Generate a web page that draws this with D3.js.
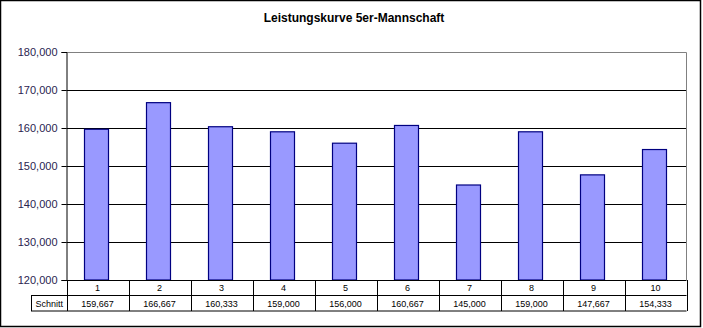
<!DOCTYPE html>
<html>
<head>
<meta charset="utf-8">
<script src="https://cdn.jsdelivr.net/npm/d3@7"></script>
<style>
  html, body { margin: 0; padding: 0; background: #fff; }
  svg { display: block; }
  text { font-family: "Liberation Sans", Arial, sans-serif; }
</style>
</head>
<body>
<svg id="chart" width="703" height="328"></svg>
<script>
// Team performance per round (average score, "Schnitt")
const categories = ["1", "2", "3", "4", "5", "6", "7", "8", "9", "10"];
const schnitt = [159667, 166667, 160333, 159000, 156000, 160667, 145000, 159000, 147667, 154333];
const yTicks = [120000, 130000, 140000, 150000, 160000, 170000, 180000];
const title = "Leistungskurve 5er-Mannschaft";
const rowLabel = "Schnitt";

const svg = d3.select("#chart");
const plot = { left: 66.5, right: 686.5, top: 52, bottom: 280 };

// outer frame
svg.append("rect")
  .attr("x", 0.5).attr("y", 0.5)
  .attr("width", 700).attr("height", 326)
  .attr("fill", "#fff").attr("stroke", "#000").attr("stroke-width", 1.5);

// title
svg.append("text")
  .attr("x", 354).attr("y", 22)
  .attr("text-anchor", "middle")
  .attr("font-size", 12).attr("font-weight", "bold")
  .attr("fill", "#000")
  .text(title);

const x = d3.scaleBand().domain(categories).range([plot.left, plot.right]).padding(0);
const y = d3.scaleLinear().domain([120000, 180000]).range([plot.bottom, plot.top]);
const fmt = d3.format(",");

// gridlines
svg.append("g").selectAll("line")
  .data(yTicks.filter(t => t > 120000 && t < 180000))
  .join("line")
  .attr("x1", plot.left).attr("x2", plot.right)
  .attr("y1", d => Math.round(y(d)) + 0.5).attr("y2", d => Math.round(y(d)) + 0.5)
  .attr("stroke", "#000").attr("stroke-width", 1);

// plot frame: top and right in grey
svg.append("path")
  .attr("d", `M${plot.left},${plot.top + 0.5}H${plot.right}V${plot.bottom}`)
  .attr("fill", "none").attr("stroke", "#808080").attr("stroke-width", 1);

// y axis
const yAxis = d3.axisLeft(y).tickValues(yTicks).tickFormat(fmt).tickSize(5).tickPadding(4);
const gy = svg.append("g").attr("transform", `translate(${plot.left},0)`).call(yAxis);
gy.select(".domain").attr("stroke", "#000");
gy.selectAll(".tick line").attr("stroke", "#000");
gy.selectAll(".tick text")
  .attr("font-size", 11)
  .attr("font-family", "Liberation Sans, Arial, sans-serif")
  .attr("fill", "#2a2450");

// bars
const barW = x.bandwidth() * 24 / 62;
svg.append("g").selectAll("rect")
  .data(categories.map((c, i) => ({ c, v: schnitt[i] })))
  .join("rect")
  .attr("x", d => x(d.c) + (x.bandwidth() - barW) / 2 - 1)
  .attr("y", d => y(d.v))
  .attr("width", barW)
  .attr("height", d => y(120000) - y(d.v))
  .attr("fill", "#9999ff")
  .attr("stroke", "#000080")
  .attr("stroke-width", 1.2);

// data table below the axis
const row1 = { top: 280, bottom: 295.5 };
const row2 = { top: 295.5, bottom: 311 };
const labelLeft = 31;
const tbl = svg.append("g").attr("stroke", "#000").attr("stroke-width", 1).attr("fill", "none");
tbl.append("line").attr("x1", plot.left).attr("x2", plot.right).attr("y1", row1.top + 0.5).attr("y2", row1.top + 0.5);
tbl.append("line").attr("x1", labelLeft).attr("x2", plot.right).attr("y1", row2.top).attr("y2", row2.top);
tbl.append("line").attr("x1", labelLeft).attr("x2", plot.right).attr("y1", row2.bottom).attr("y2", row2.bottom);
tbl.append("line").attr("x1", labelLeft + 0.5).attr("x2", labelLeft + 0.5).attr("y1", row2.top).attr("y2", row2.bottom);
const bounds = categories.map(c => x(c)).concat([plot.right]);
tbl.selectAll("line.v").data(bounds).join("line")
  .attr("class", "v")
  .attr("x1", d => Math.round(d) + 0.5).attr("x2", d => Math.round(d) + 0.5)
  .attr("y1", row1.top).attr("y2", row2.bottom);

const tt = svg.append("g").attr("font-size", 9).attr("fill", "#000").attr("text-anchor", "middle");
tt.selectAll("text.cat").data(categories).join("text")
  .attr("class", "cat")
  .attr("x", d => x(d) + x.bandwidth() / 2)
  .attr("y", 291)
  .text(d => d);
tt.selectAll("text.val").data(schnitt).join("text")
  .attr("class", "val")
  .attr("x", (d, i) => x(categories[i]) + x.bandwidth() / 2)
  .attr("y", 306.5)
  .text(d => fmt(d));
tt.append("text")
  .attr("x", (labelLeft + plot.left) / 2 + 0.5)
  .attr("y", 306.5)
  .text(rowLabel);
</script>
</body>
</html>
